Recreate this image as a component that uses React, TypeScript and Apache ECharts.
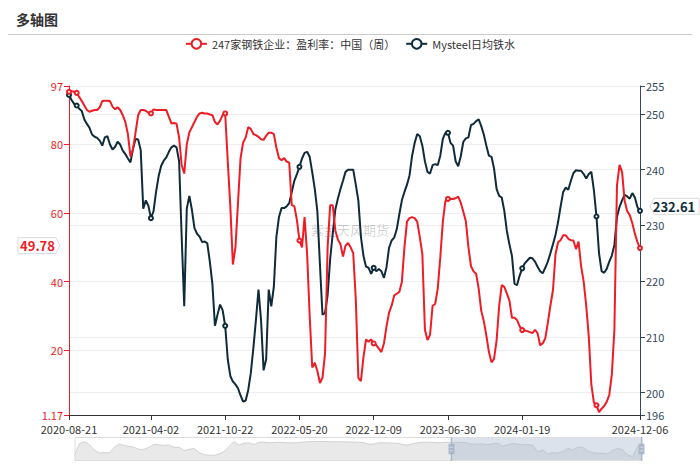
import React, { useEffect, useRef } from "react";
import * as echarts from "echarts";

const FONT = '"Noto Sans CJK SC", "Noto Sans", sans-serif';
const RED = "#ee1c25";
const DARK = "#0f2b3a";
const RIGHT_AXIS = "#34495e";

const chartTitle = "多轴图";
const watermark = "紫金天风期货";
const seriesNames = ["247家钢铁企业：盈利率：中国（周）", "Mysteel日均铁水"];

// weekly categories
const firstWeek = "2020-08-21";
const lastWeek = "2024-12-06";
const skippedWeeks = ["2022-02-04"];

const leftMin = 1.17;
const leftMax = 97;
const rightMin = 196;
const rightMax = 255;

// 247家钢铁企业：盈利率（%）
const profitRate = [
  95.3, 95.5, 95.3, 95.0, 93.8, 92.6, 91.3, 90.0, 89.5, 89.8,
  90.0, 90.0, 90.8, 92.6, 92.7, 92.7, 92.6, 91.0, 90.2, 90.8,
  90.0, 88.5, 86.5, 83.0, 76.5, 78.5, 83.5, 88.5, 90.0, 90.0,
  89.8, 89.2, 89.0, 90.2, 90.0, 90.0, 90.0, 90.0, 90.0, 88.0,
  86.1, 86.2, 86.0, 82.0, 74.0, 71.5, 80.0, 83.5, 85.0, 86.5,
  88.0, 89.0, 89.2, 89.0, 89.0, 88.7, 88.5, 86.5, 85.8, 86.9,
  88.5, 89.0, 75.0, 62.0, 45.0, 50.0, 63.0, 76.0, 80.5, 82.0,
  85.0, 84.5, 83.0, 82.7, 82.2, 81.5, 81.3, 82.5, 83.4, 83.4,
  83.0, 79.0, 76.0, 75.4, 76.0, 75.0, 74.7, 62.3, 62.0, 58.0,
  52.0, 50.0, 58.8, 48.0, 30.0, 15.0, 16.4, 14.0, 10.5, 12.0,
  19.1, 50.0, 62.3, 62.3, 55.0, 52.3, 51.0, 47.3, 50.5, 51.3,
  50.0, 48.3, 35.0, 12.0, 11.0, 18.0, 23.2, 22.5, 23.2, 22.0,
  21.5, 20.5, 19.5, 22.0, 27.0, 31.0, 33.0, 36.0, 36.5, 37.0,
  40.0, 50.0, 57.5, 58.5, 58.8, 58.5, 57.5, 53.0, 48.0, 26.0,
  23.0, 24.5, 33.0, 33.5, 38.0, 47.0, 57.5, 63.5, 64.1, 64.1,
  64.1, 64.3, 64.8, 63.0, 60.4, 57.5, 50.0, 44.5, 43.0, 42.3,
  38.0, 31.5, 28.5, 24.3, 19.5, 16.5, 17.5, 23.0, 33.0, 39.0,
  38.5, 36.6, 34.5, 29.5, 29.5, 28.8, 27.0, 25.9, 25.8, 25.6,
  25.3, 25.0, 26.0, 25.0, 21.5, 22.0, 23.5, 28.0, 33.0, 37.5,
  48.0, 51.5, 52.1, 53.5, 53.5, 52.5, 52.1, 52.0, 49.5, 51.7,
  44.5, 40.0, 33.0, 24.0, 10.0, 4.8, 4.0, 2.0, 3.0, 3.8,
  5.0, 7.0, 13.0, 26.0, 68.0, 74.0, 72.0, 63.5, 60.5, 59.4,
  57.0, 54.0, 51.5, 49.78,
];

// Mysteel日均铁水（万吨）
const hotMetal = [
  253.4, 252.5, 251.8, 251.5, 250.9, 250.5, 249.0, 248.2, 247.5, 246.3,
  245.9, 245.7, 245.2, 244.3, 245.8, 246.0, 244.5, 243.6, 244.1, 245.0,
  244.5, 243.4, 242.8, 242.0, 241.3, 243.8, 245.5, 245.4, 243.5, 233.0,
  234.5, 233.5, 231.3, 232.5, 236.0, 238.8, 240.7, 241.6, 242.2, 243.2,
  244.0, 244.3, 244.0, 241.5, 228.0, 215.5, 233.0, 235.3, 232.8, 229.5,
  228.5, 228.0, 227.0, 227.1, 226.8, 223.5, 219.5, 212.0, 214.0, 215.8,
  214.8, 212.0, 206.0, 203.0, 202.0, 201.5, 200.8, 199.5, 198.4, 198.6,
  200.5, 203.5, 208.0, 213.0, 218.5, 213.0, 204.0, 206.0, 218.5, 215.5,
  219.0, 228.0, 231.5, 233.1, 233.1, 233.4, 234.0, 236.0, 238.0, 239.2,
  240.5, 242.0, 243.0, 243.2, 242.3, 239.5, 236.5, 232.5, 223.0, 214.0,
  214.3, 217.5, 224.0, 228.5, 232.8, 234.8, 236.5, 238.0, 239.6, 240.0,
  240.0, 240.0, 237.3, 234.5, 228.0, 224.5, 222.6, 222.4, 221.3, 222.4,
  221.8, 222.2, 221.8, 220.6, 222.5, 226.0, 227.3, 227.8, 229.3, 232.0,
  234.5, 236.0, 237.3, 239.0, 242.5, 244.8, 246.4, 246.0, 244.3, 241.5,
  239.6, 239.3, 240.8, 241.0, 240.8, 242.5, 245.5, 246.6, 246.6, 244.8,
  244.3, 241.5, 240.6, 242.4, 245.0, 245.6, 245.8, 248.0, 248.2, 248.7,
  249.0, 247.8, 246.3, 244.3, 242.5, 242.3, 240.2, 236.5, 235.3, 235.0,
  232.6, 229.0, 226.6, 224.5, 219.5, 219.3, 221.0, 222.3, 223.2, 223.7,
  224.2, 224.1, 223.5, 222.6, 221.8, 221.4, 222.4, 223.5, 225.0, 226.6,
  228.3, 230.6, 233.4, 236.0, 236.8, 236.4, 238.0, 239.4, 239.9, 239.8,
  239.8, 239.2, 238.4, 239.2, 239.6, 236.3, 231.6, 225.0, 221.8, 221.5,
  222.2, 223.5, 224.6, 226.5, 231.5, 233.3, 234.5, 235.5, 235.2, 234.8,
  235.8, 235.0, 233.3, 232.61,
];

// silhouette of the slider's data shadow (full history)
const sliderShadow = [
  5, 16, 17.7, 15, 9.5, 7, 7.3, 7, 12.5, 15.7,
  14.2, 13.4, 12.4, 10.3, 10.5, 12.6, 15.5, 14.7, 14.3, 14.7,
  12.2, 12.5, 9.3, 10.4, 11.3, 7.3, 5.3, 4.8, 4.5, 5.8,
  8.3, 13, 18, 14.6, 16.3, 16.7, 15.2, 17.1, 17.3, 16.7,
  17, 17.3, 17, 16.8, 16.7, 17, 17.5, 17.8, 18, 18,
  18, 18, 17.8, 17.7, 17.7, 17.6, 17.5, 17.3, 17, 15.5,
  15.5, 16.7, 16.7, 16.7, 16.4, 16.2, 15, 14.5, 16, 16.8,
  17.3, 17.3, 17, 16.8, 17, 17.3, 16.7, 17.1, 17.2, 16.4,
  15.3, 15.6, 15.7, 15, 15.8, 16.4, 13.5, 15, 16, 15.4,
  15, 15, 14.4, 8, 10, 6, 7.3, 6.7, 8.3, 11.5,
  9.5, 12.5, 12.5, 9, 7.2, 6.7, 6.7, 6, 9.5, 11.3,
  10, 5, 3.5, 13, 16,
];
const sliderStartPercent = 66.2;

function buildWeeks(): string[] {
  const out: string[] = [];
  const d = new Date(firstWeek + "T00:00:00Z");
  const end = new Date(lastWeek + "T00:00:00Z");
  while (d.getTime() <= end.getTime()) {
    const s = d.toISOString().slice(0, 10);
    if (skippedWeeks.indexOf(s) < 0) out.push(s);
    d.setUTCDate(d.getUTCDate() + 7);
  }
  return out;
}

const LABEL_STEP = 29;
const LABEL_OFFSET = 3;

export default function App() {
  const ref = useRef<HTMLDivElement>(null);
  useEffect(() => {
    if (!ref.current) return;
    const chart = echarts.init(ref.current, null, { renderer: "svg" });
    const weeks = buildWeeks();
    const n = weeks.length;
    const isLabelIdx = (i: number) =>
      i === 0 || i === n - 1 || (i - LABEL_OFFSET) % LABEL_STEP === 0;
    // labels squeezed against the first / last label are hidden (with their ticks)
    const isHiddenIdx = (i: number) =>
      i !== 0 && i !== n - 1 && isLabelIdx(i) && (i < LABEL_STEP || i > n - 1 - LABEL_STEP);
    const shadowCats = sliderShadow.map((_, i) => String(i));

    const option: any = {
      animation: false,
      textStyle: { fontFamily: FONT },
      title: {
        text: chartTitle,
        left: 16,
        top: 12,
        padding: 0,
        textStyle: { fontSize: 14, fontWeight: "bold", color: "#333", fontFamily: FONT },
      },
      legend: {
        data: seriesNames,
        top: 38,
        left: "center",
        padding: 0,
        itemWidth: 21,
        itemHeight: 12,
        itemGap: 10,
        textStyle: { fontSize: 11, color: "#333", fontFamily: FONT },
      },
      grid: { left: 69, right: 60, top: 86, bottom: 53, containLabel: false },
      xAxis: [
        {
          type: "category",
          data: weeks,
          boundaryGap: false,
          axisLine: { lineStyle: { color: "#333", width: 1 } },
          axisTick: {
            interval: (i: number) => isLabelIdx(i) && !isHiddenIdx(i),
            lineStyle: { color: "#333" },
          },
          axisLabel: {
            interval: (i: number) => isLabelIdx(i),
            formatter: (v: string, i: number) => (isHiddenIdx(i) ? "" : v),
            color: "#333",
            fontSize: 11,
            fontFamily: FONT,
            margin: 8,
          },
          splitLine: { show: false },
        },
        { type: "category", data: shadowCats, show: false, gridIndex: 0 },
      ],
      yAxis: [
        {
          type: "value",
          position: "left",
          min: leftMin,
          max: leftMax,
          axisLine: { show: true, lineStyle: { color: RED, width: 1 } },
          axisTick: { show: true, lineStyle: { color: RED } },
          axisLabel: { color: RED, fontSize: 11, fontFamily: FONT, margin: 6 },
          splitLine: { show: true, lineStyle: { color: "#eeeeee" } },
        },
        {
          type: "value",
          position: "right",
          min: rightMin,
          max: rightMax,
          axisLine: { show: true, lineStyle: { color: RIGHT_AXIS, width: 1 } },
          axisTick: { show: true, lineStyle: { color: RIGHT_AXIS } },
          axisLabel: { color: RIGHT_AXIS, fontSize: 11, fontFamily: FONT, margin: 6 },
          splitLine: { show: true, lineStyle: { color: "#eeeeee" } },
        },
        { type: "value", show: false, scale: true },
      ],
      dataZoom: [
        {
          type: "slider",
          xAxisIndex: 1,
          filterMode: "none",
          start: sliderStartPercent,
          end: 100,
          left: 72,
          right: 60,
          top: 437,
          height: 24,
          showDetail: false,
          brushSelect: false,
          moveHandleSize: 0,
          borderRadius: 0,
          borderColor: "#dddddd",
          backgroundColor: "rgba(0,0,0,0)",
          fillerColor: "rgba(167,183,204,0.4)",
          dataBackground: {
            lineStyle: { color: "#c9c9c9", width: 0.8, opacity: 1 },
            areaStyle: { color: "#e9e9e9", opacity: 1 },
          },
          selectedDataBackground: {
            lineStyle: { color: "#c9c9c9", width: 0.8, opacity: 1 },
            areaStyle: { color: "#e9e9e9", opacity: 1 },
          },
          handleIcon:
            "path://M8.2,13.6V3.9H6.3v9.7H3.1v14.9h3.3v9.7h1.8v-9.7h3.3V13.6H8.2z M9.7,24.4H4.8v-1.4h4.9V24.4z M9.7,19.1H4.8v-1.4h4.9V19.1z",
          handleSize: "100%",
          handleStyle: { color: "#a7b7cc", borderColor: "#a7b7cc", borderWidth: 0 },
          emphasis: { handleStyle: { color: "#a7b7cc", borderColor: "#a7b7cc" } },
        },
      ],
      series: [
        {
          name: seriesNames[0],
          type: "line",
          xAxisIndex: 0,
          yAxisIndex: 0,
          data: profitRate,
          symbol: "emptyCircle",
          symbolSize: 4,
          showSymbol: true,
          showAllSymbol: "auto",
          itemStyle: { color: RED },
          lineStyle: { color: RED, width: 2 },
          z: 3,
        },
        {
          name: seriesNames[1],
          type: "line",
          xAxisIndex: 0,
          yAxisIndex: 1,
          data: hotMetal,
          symbol: "emptyCircle",
          symbolSize: 4,
          showSymbol: true,
          showAllSymbol: "auto",
          itemStyle: { color: DARK },
          lineStyle: { color: DARK, width: 2 },
          z: 2,
        },
        {
          name: "sliderShadow",
          type: "line",
          xAxisIndex: 1,
          yAxisIndex: 2,
          data: sliderShadow,
          symbol: "none",
          lineStyle: { opacity: 0 },
          silent: true,
          z: 0,
        },
      ],
    };
    chart.setOption(option);

    const lastRed = profitRate[profitRate.length - 1];
    const lastDark = hotMetal[hotMetal.length - 1];
    const yR = chart.convertToPixel({ yAxisIndex: 0 }, lastRed) as number;
    const yB = chart.convertToPixel({ yAxisIndex: 1 }, lastDark) as number;
    const cR = yR - 2.5;
    const cB = yB - 4.5;

    chart.setOption({
      graphic: [
        {
          id: "hr",
          type: "line",
          silent: true,
          shape: { x1: 8, y1: 34.5, x2: 692, y2: 34.5 },
          style: { stroke: "#cccccc", lineWidth: 1 },
        },
        {
          id: "wm",
          type: "text",
          silent: true,
          x: 350,
          y: 229,
          z: 0,
          style: {
            text: watermark,
            fill: "rgba(0,0,0,0.2)",
            font: `13px ${FONT}`,
            align: "center",
            verticalAlign: "middle",
          },
        },
        {
          id: "tagL",
          type: "polygon",
          silent: true,
          z: 10,
          shape: {
            points: [
              [18, cR - 8],
              [56, cR - 8],
              [60, cR],
              [56, cR + 8],
              [18, cR + 8],
            ],
          },
          style: { fill: "#ffffff", stroke: "#dcdcdc", lineWidth: 1 },
        },
        {
          id: "tagLText",
          type: "text",
          silent: true,
          z: 11,
          x: 37.5,
          y: cR,
          style: {
            text: lastRed.toFixed(2),
            fill: RED,
            font: `bold 13px ${FONT}`,
            align: "center",
            verticalAlign: "middle",
          },
        },
        {
          id: "tagR",
          type: "polygon",
          silent: true,
          z: 10,
          shape: {
            points: [
              [650, cB],
              [654, cB - 8],
              [699, cB - 8],
              [699, cB + 8],
              [654, cB + 8],
            ],
          },
          style: { fill: "#ffffff", stroke: "#dcdcdc", lineWidth: 1 },
        },
        {
          id: "tagRText",
          type: "text",
          silent: true,
          z: 11,
          x: 674,
          y: cB,
          style: {
            text: lastDark.toFixed(2),
            fill: DARK,
            font: `bold 13px ${FONT}`,
            align: "center",
            verticalAlign: "middle",
          },
        },
      ],
    });

    return () => chart.dispose();
  }, []);

  return (
    <div
      ref={ref}
      style={{ position: "absolute", left: 0, top: 0, width: 700, height: 468, background: "#fff" }}
    />
  );
}
